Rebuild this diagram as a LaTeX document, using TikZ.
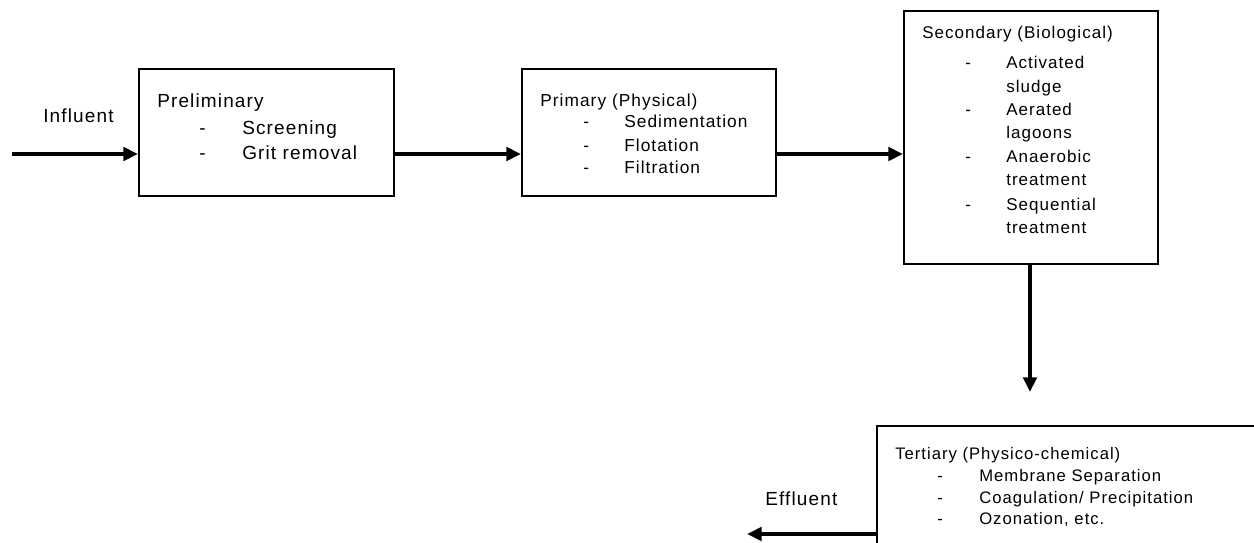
\documentclass[tikz,border=0pt]{standalone}
\usepackage{fontspec}
\setmainfont{Liberation Sans}[LetterSpace=6]
\usetikzlibrary{arrows.meta}
\begin{document}
\begin{tikzpicture}[x=0.75pt,y=-0.75pt,
  box/.style={draw,line width=1.4pt,inner sep=0pt,anchor=north west},
  flow/.style={line width=2.8pt,-{Triangle[length=11pt,width=10pt]}},
  txt/.style={anchor=base west,inner sep=0pt},
  fpre/.style={txt,font=\fontsize{14.25}{17}\selectfont},
  fpri/.style={txt,font=\fontsize{13}{16}\selectfont},
  fsec/.style={txt,font=\fontsize{12.75}{15}\selectfont},
  fter/.style={txt,font=\fontsize{12.5}{15}\selectfont},
  flab/.style={txt,font=\fontsize{14.25}{17}\selectfont}]
\useasboundingbox (0,0) rectangle (1254,543);
\clip (0,0) rectangle (1254,543);
% boxes
\node[box,minimum width=191.25pt,minimum height=95.25pt] (pre) at (138,68) {};
\node[box,minimum width=190.5pt,minimum height=95.25pt] (pri) at (521,68) {};
\node[box,minimum width=190.5pt,minimum height=189.75pt] (sec) at (903,10) {};
\node[box,minimum width=330pt,minimum height=150pt] (ter) at (876,425) {};
% labels
\node[flab] (lin) at (43,122) {Influent};
\node[flab] (lout) at (765,505) {Effluent};
% preliminary
\node[fpre] (p0) at (157,107) {Preliminary};
\node[fpre] (pd1) at (199,134) {-};
\node[fpre] (p1) at (242,134) {Screening};
\node[fpre] (pd2) at (199,159) {-};
\node[fpre] (p2) at (242,159) {Grit removal};
% primary
\node[fpri] (q0) at (540,106) {Primary (Physical)};
\node[fpri] (qd1) at (583,127) {-};
\node[fpri] (q1) at (624,127) {Sedimentation};
\node[fpri] (qd2) at (583,151) {-};
\node[fpri] (q2) at (624,151) {Flotation};
\node[fpri] (qd3) at (583,173) {-};
\node[fpri] (q3) at (624,173) {Filtration};
% secondary
\node[fsec] (s0) at (922,38) {Secondary (Biological)};
\node[fsec] (sd1) at (965,68) {-};
\node[fsec] (s1) at (1006,68) {Activated};
\node[fsec] (s1b) at (1006,92) {sludge};
\node[fsec] (sd2) at (965,115) {-};
\node[fsec] (s2) at (1006,115) {Aerated};
\node[fsec] (s2b) at (1006,138) {lagoons};
\node[fsec] (sd3) at (965,162) {-};
\node[fsec] (s3) at (1006,162) {Anaerobic};
\node[fsec] (s3b) at (1006,185) {treatment};
\node[fsec] (sd4) at (965,210) {-};
\node[fsec] (s4) at (1006,210) {Sequential};
\node[fsec] (s4b) at (1006,233) {treatment};
% tertiary
\node[fter] (t0) at (895,459) {Tertiary (Physico-chemical)};
\node[fter] (td1) at (937,481) {-};
\node[fter] (t1) at (979,481) {Membrane Separation};
\node[fter] (td2) at (937,503) {-};
\node[fter] (t2) at (979,503) {Coagulation/ Precipitation};
\node[fter] (td3) at (937,524) {-};
\node[fter] (t3) at (979,524) {Ozonation, etc.};
% connectors
\coordinate (inS) at (12,154);
\draw[flow] (inS) -- (pre.west |- inS);
\draw[flow] (pre.east |- inS) -- (pri.west |- inS);
\draw[flow] (pri.east |- inS) -- (sec.west |- inS);
\coordinate (dnE) at (1030,392);
\draw[flow] (sec.south -| dnE) -- (dnE);
\coordinate (outE) at (747,534);
\draw[flow] (ter.west |- outE) -- (outE);
\end{tikzpicture}
\end{document}
